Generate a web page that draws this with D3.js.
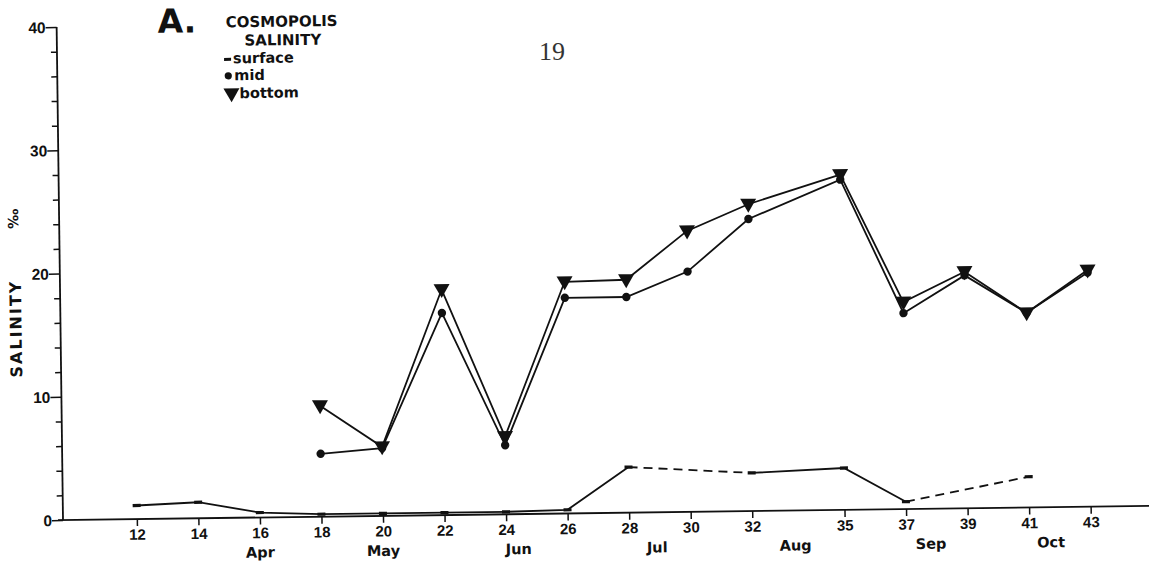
<!DOCTYPE html>
<html>
<head>
<meta charset="utf-8">
<script src="https://cdn.jsdelivr.net/npm/d3@7"></script>
<style>
  html, body { margin: 0; padding: 0; background: #fff; }
  svg { display: block; }
</style>
</head>
<body>
<svg id="chart" width="1149" height="563" font-family="DejaVu Sans, sans-serif" font-weight="bold" fill="#111"></svg>
<script>
// Sampling weeks (week of year) and the salinity readings at Cosmopolis (‰)
const weeks   = [12, 14, 16, 18, 20, 22, 24, 26, 28, 30, 32, 35, 37, 39, 41, 43];
const surface = [1.1, 1.3, 0.4, 0.2, 0.2, 0.2, 0.2, 0.3, 3.7, null, 3.1, 3.4, 0.6, null, 2.5, null];
const mid     = [null, null, null, 5.1, 5.5, 16.4, 5.6, 17.5, 17.5, 19.5, 23.7, 26.8, 15.9, 18.9, 15.8, 19.0];
const bottom  = [null, null, null, 9.0, 5.6, 18.3, 6.3, 18.8, 18.9, 22.8, 24.9, 27.2, 16.8, 19.2, 15.8, 19.2];

// Month names and the week each one is written under
const months     = ["Apr", "May", "Jun", "Jul", "Aug", "Sep", "Oct"];
const monthWeeks = [16, 20, 24.4, 28.9, 33.4, 37.8, 41.7];

const yMajor = [0, 10, 20, 30, 40];
const yMinor = d3.range(0, 41, 2);

const INK = "#111";
const DIGITS = "Liberation Sans, Arial, sans-serif";

const svg = d3.select("#chart");
const ox = 63, oy = 520;

// the whole plate sits slightly askew on the page
const g = svg.append("g").attr("transform", `rotate(-0.74, ${ox}, ${oy})`);

const x = d3.scaleLinear().domain([9.6, 45]).range([ox, ox + (45 - 9.6) * 30.77]);
const y = d3.scaleLinear().domain([0, 40]).range([oy, 27]);

// ---- x axis ----
const xAxis = g.append("g")
  .attr("transform", `translate(0,${oy})`)
  .call(d3.axisBottom(x).tickValues(weeks).tickSize(7).tickPadding(3).tickFormat(d3.format("d")));
xAxis.select(".domain").remove();
xAxis.selectAll(".tick line").attr("stroke", INK).attr("stroke-width", 1.5);
xAxis.selectAll(".tick text")
  .attr("font-size", 15).attr("font-family", DIGITS)
  .attr("font-weight", "bold").attr("fill", INK);
g.append("line")
  .attr("x1", ox - 5).attr("x2", 1165).attr("y1", oy).attr("y2", oy)
  .attr("stroke", INK).attr("stroke-width", 1.8);

g.append("g").selectAll("text").data(months).join("text")
  .attr("x", (d, i) => x(monthWeeks[i]))
  .attr("y", oy + 40)
  .attr("text-anchor", "middle")
  .attr("font-size", 14.5)
  .text(d => d);

// ---- y axis ----
const yAxis = g.append("g")
  .attr("transform", `translate(${ox},0)`)
  .call(d3.axisLeft(y).tickValues(yMinor).tickSize(0).tickFormat(d => yMajor.includes(d) ? d : ""));
yAxis.select(".domain").remove();
yAxis.selectAll(".tick line")
  .attr("x2", d => yMajor.includes(d) ? -11 : -6)
  .attr("stroke", INK).attr("stroke-width", 1.5);
yAxis.selectAll(".tick text")
  .attr("x", -11).attr("dy", "0.35em")
  .attr("font-size", 15.5).attr("font-family", DIGITS)
  .attr("font-weight", "bold").attr("fill", INK);
g.append("line")
  .attr("x1", ox).attr("x2", ox).attr("y1", y(40)).attr("y2", oy)
  .attr("stroke", INK).attr("stroke-width", 1.8);

g.append("text")
  .attr("transform", `translate(${ox - 39},328) rotate(-90)`)
  .attr("text-anchor", "middle")
  .attr("font-size", 16)
  .attr("letter-spacing", 2)
  .text("SALINITY");
g.append("text")
  .attr("transform", `translate(${ox - 41},218) rotate(-90)`)
  .attr("text-anchor", "middle")
  .attr("font-size", 14)
  .text("‰");

// ---- series ----
const pts = vals => weeks.map((w, i) => ({ w, v: vals[i] }));
const line = d3.line().defined(d => d.v != null).x(d => x(d.w)).y(d => y(d.v));

// surface: solid between consecutive samples, dashed across a missed sample
const sPts = pts(surface);
const sKnown = sPts.filter(d => d.v != null);
const bridges = [];
for (let i = 0; i < sKnown.length - 1; i++) {
  const a = weeks.indexOf(sKnown[i].w), b = weeks.indexOf(sKnown[i + 1].w);
  if (b - a > 1) bridges.push([sKnown[i], sKnown[i + 1]]);
}
g.append("path").datum(sPts).attr("d", line)
  .attr("fill", "none").attr("stroke", INK).attr("stroke-width", 1.8);
g.selectAll(".bridge").data(bridges).join("path").attr("class", "bridge")
  .attr("d", d => line(d))
  .attr("fill", "none").attr("stroke", INK).attr("stroke-width", 1.8)
  .attr("stroke-dasharray", "9,6");
g.selectAll(".smark").data(sKnown).join("rect").attr("class", "smark")
  .attr("x", d => x(d.w) - 4).attr("y", d => y(d.v) - 1.6)
  .attr("width", 8).attr("height", 3.2).attr("fill", INK);

// mid depth
const mPts = pts(mid);
g.append("path").datum(mPts).attr("d", line)
  .attr("fill", "none").attr("stroke", INK).attr("stroke-width", 1.8);
g.selectAll(".mmark").data(mPts.filter(d => d.v != null)).join("circle").attr("class", "mmark")
  .attr("cx", d => x(d.w)).attr("cy", d => y(d.v)).attr("r", 4.2).attr("fill", INK);

// bottom
const tri = "M-8,-5.5L8,-5.5L0,8.5Z";
const bPts = pts(bottom);
g.append("path").datum(bPts).attr("d", line)
  .attr("fill", "none").attr("stroke", INK).attr("stroke-width", 1.8);
g.selectAll(".bmark").data(bPts.filter(d => d.v != null)).join("path").attr("class", "bmark")
  .attr("transform", d => `translate(${x(d.w)},${y(d.v)})`)
  .attr("d", tri).attr("fill", INK);

// ---- title block and key ----
const key = g.append("g").attr("transform", "translate(6,0)");
key.append("text").attr("x", 158).attr("y", 34)
  .attr("font-size", 33)
  .text("A.");
key.append("text").attr("x", 282).attr("y", 29.5).attr("text-anchor", "middle")
  .attr("font-size", 15).text("COSMOPOLIS");
key.append("text").attr("x", 283).attr("y", 48).attr("text-anchor", "middle")
  .attr("font-size", 15).text("SALINITY");

key.append("rect").attr("x", 224).attr("y", 60).attr("width", 7).attr("height", 3).attr("fill", INK);
key.append("text").attr("x", 233).attr("y", 65.5).attr("font-size", 14.5).text("surface");
key.append("circle").attr("cx", 228).attr("cy", 78).attr("r", 3.6).attr("fill", INK);
key.append("text").attr("x", 234).attr("y", 82.5).attr("font-size", 14.5).text("mid");
key.append("path").attr("transform", "translate(231,96)").attr("d", tri).attr("fill", INK);
key.append("text").attr("x", 239).attr("y", 100.5).attr("font-size", 14.5).text("bottom");

// page number
svg.append("text").attr("x", 539).attr("y", 60)
  .attr("font-family", "Liberation Serif, serif").attr("font-weight", "normal")
  .attr("font-size", 26).attr("fill", "#333").text("19");
</script>
</body>
</html>
